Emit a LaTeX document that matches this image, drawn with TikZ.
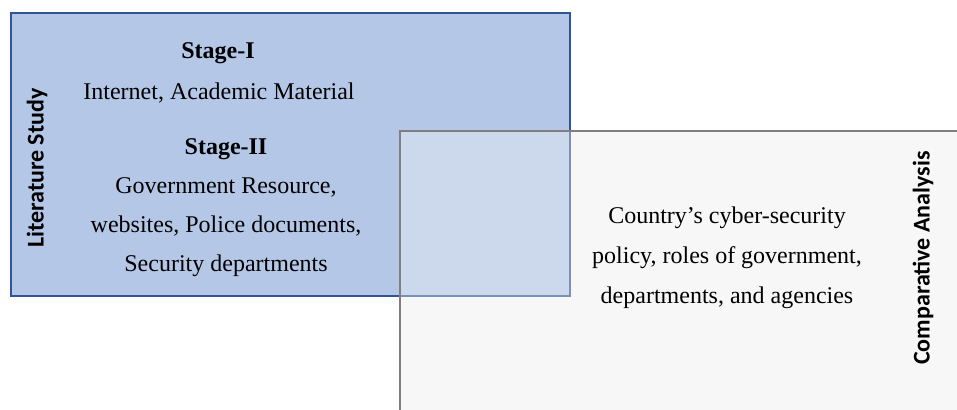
\documentclass[tikz,border=0pt]{standalone}
\usepackage{fontspec}
\setmainfont{Liberation Serif}
\newfontfamily\labelfont{Carlito}
\usetikzlibrary{positioning}
\definecolor{LitFill}{HTML}{B4C7E7}
\definecolor{LitLine}{HTML}{2F5597}
\definecolor{CmpFill}{HTML}{F7F7F7}
\definecolor{CmpLine}{HTML}{7F7F7F}

\tikzset{
  body/.style={font=\fontsize{12}{19.5}\selectfont, align=center, inner sep=0pt},
  stagehead/.style={body, font=\fontsize{12}{14}\selectfont\bfseries},
  sidelabel/.style={font=\labelfont\fontsize{12}{14}\selectfont\bfseries, rotate=90, inner sep=0pt},
  cmpbox/.style={draw=CmpLine, line width=1pt, rectangle, inner sep=0pt,
                 minimum width=300pt, minimum height=160pt, anchor=north west}
}

\begin{document}
\begin{tikzpicture}[x=0.5pt, y=-0.5pt]
    \useasboundingbox (0,0) rectangle (957,410);
    \clip (0,0) rectangle (957,410);

    % comparison panel, solid underneath
    \node[cmpbox, fill=CmpFill, draw=none] (cmpbase) at (399,130) {};

    % literature panel
    \node[draw=LitLine, fill=LitFill, line width=1pt, rectangle, inner sep=0pt,
          minimum width=279.5pt, minimum height=141.5pt, anchor=north west]
          (lit) at (10,12) {};

    % comparison panel again, see-through over the overlap
    \node[cmpbox, fill=CmpFill, fill opacity=0.37] (cmp) at (399,130) {};

    \node[stagehead] (stage1) at (218,53) {Stage-I};
    \node[body] (src1) at (219,93) {Internet, Academic Material};
    \node[stagehead] (stage2) at (226,149) {Stage-II};
    \node[body] (src2) at (226,227) {Government Resource,\\
      websites, Police documents,\\
      Security departments};
    \node[sidelabel] (litlabel) at (37,168) {Literature Study};

    \node[body, font=\fontsize{12}{20}\selectfont] (cmptext) at (727,258)
      {Country’s cyber-security\\
       policy, roles of government,\\
       departments, and agencies};
    \node[sidelabel] (cmplabel) at (923,258) {Comparative Analysis};
\end{tikzpicture}
\end{document}
